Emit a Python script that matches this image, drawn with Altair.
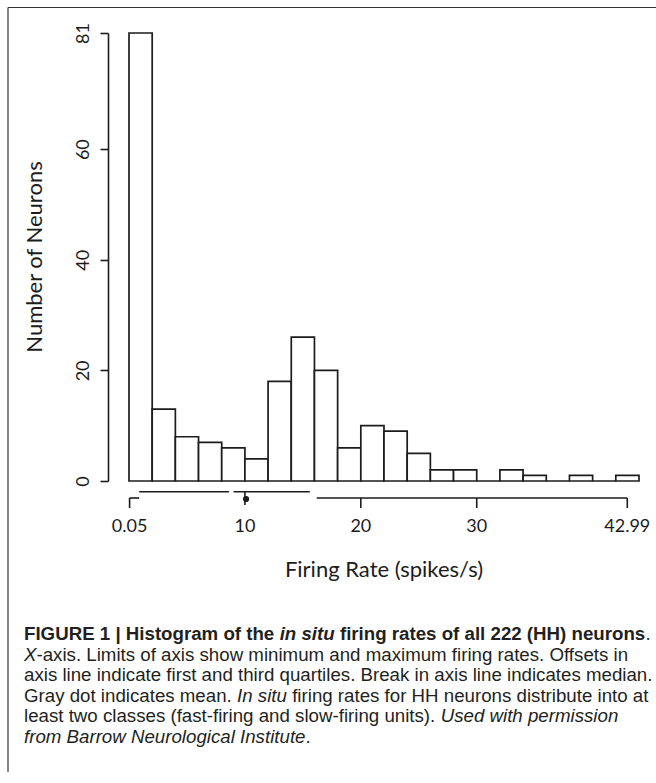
import altair as alt
import pandas as pd

# ---------------- data ----------------
bin_lo = [0, 2, 4, 6, 8, 10, 12, 14, 16, 18, 20, 22, 24, 26, 28, 30, 32, 34, 36, 38, 40, 42]
bin_hi = [2, 4, 6, 8, 10, 12, 14, 16, 18, 20, 22, 24, 26, 28, 30, 32, 34, 36, 38, 40, 42, 44]
counts = [81, 13, 8, 7, 6, 4, 18, 26, 20, 6, 10, 9, 5, 2, 2, 0, 2, 1, 0, 1, 0, 1]

y_ticks = [0, 20, 40, 60, 81]
x_tick_values = [0.05, 10, 20, 30, 42.99]
x_tick_labels = ["0.05", "10", "20", "30", "42.99"]

rate_min, rate_q1, rate_median, rate_mean, rate_q3, rate_max = 0.05, 0.88, 8.82, 10.1, 15.9, 42.99

x_title = "Firing Rate (spikes/s)"
y_title = "Number of Neurons"

caption_lines = [
    [("FIGURE 1 | Histogram of the ", "b"), ("in situ", "bi"),
     (" firing rates of all 222 (HH) neurons", "b"), (".", "r")],
    [("X", "i"), ("-axis. Limits of axis show minimum and maximum firing rates. Offsets in", "r")],
    [("axis line indicate first and third quartiles. Break in axis line indicates median.", "r")],
    [("Gray dot indicates mean. ", "r"), ("In situ", "i"),
     (" firing rates for HH neurons distribute into at", "r")],
    [("least two classes (fast-firing and slow-firing units). ", "r"), ("Used with permission", "i")],
    [("from Barrow Neurological Institute", "i"), (".", "r")],
]

# ---------------- layout ----------------
W, H = 510, 448
PAD_L, PAD_T = 129, 33
INK = "#1c1c1c"
AX_FONT = "Lato"
TICK_SIZE = 18
TITLE_SIZE = 22
CAP_FONT = "Liberation Sans"
CAP_SIZE = 18.7

hist = pd.DataFrame({"lo": bin_lo, "hi": bin_hi, "n": counts})
xs = alt.Scale(domain=[0, 44], nice=False, zero=False)
ys = alt.Scale(domain=[0, 81], nice=False)

bars = alt.Chart(hist).mark_rect(fill="white", stroke=INK, strokeWidth=1.7).encode(
    x=alt.X("lo:Q", scale=xs, axis=None),
    x2="hi:Q",
    y=alt.Y("n:Q", scale=ys, axis=alt.Axis(
        values=y_ticks, title=None, offset=21, tickSize=8, tickWidth=1.6, domainWidth=1.6,
        domainColor=INK, tickColor=INK, labelColor=INK, labelFont=AX_FONT, labelFontSize=TICK_SIZE,
        labelAngle=270, labelAlign="center", labelBaseline="bottom", labelPadding=8,
        labelFlush=False, labelOverlap=False, grid=False)),
    y2=alt.datum(0),
)

# custom quartile x axis (range frame)
base_y, off_y = 465, 458.7
mgap, qgap = 0.2, 0.3
seg_base = pd.DataFrame({"a": [rate_min, rate_q3 + qgap], "b": [rate_q1, rate_max]})
seg_off = pd.DataFrame({"a": [rate_q1, rate_median + mgap], "b": [rate_median - mgap, rate_q3 - qgap]})

line_base = alt.Chart(seg_base).mark_rule(color=INK, strokeWidth=1.6).encode(
    x=alt.X("a:Q", scale=xs), x2="b:Q", y=alt.value(base_y))
line_off = alt.Chart(seg_off).mark_rule(color=INK, strokeWidth=1.6).encode(
    x=alt.X("a:Q", scale=xs), x2="b:Q", y=alt.value(off_y))

ticks = pd.DataFrame({"v": x_tick_values, "lab": x_tick_labels})
tick_out = alt.Chart(ticks).transform_filter(
    f"datum.v < {rate_q1} || datum.v > {rate_q3}").mark_rule(color=INK, strokeWidth=1.6).encode(
    x=alt.X("v:Q", scale=xs), y=alt.value(base_y), y2=alt.value(base_y + 10))
tick_in = alt.Chart(ticks).transform_filter(
    f"datum.v >= {rate_q1} && datum.v <= {rate_q3}").mark_rule(color=INK, strokeWidth=1.6).encode(
    x=alt.X("v:Q", scale=xs), y=alt.value(off_y), y2=alt.value(base_y + 7))
tick_text = alt.Chart(ticks).mark_text(
    font=AX_FONT, fontSize=TICK_SIZE, color=INK, align="center", baseline="alphabetic").encode(
    x=alt.X("v:Q", scale=xs), y=alt.value(498.7), text="lab:N")

mean_dot = alt.Chart(pd.DataFrame({"m": [rate_mean]})).mark_point(
    filled=True, size=38, color=INK, opacity=1).encode(
    x=alt.X("m:Q", scale=xs), y=alt.value(base_y + 1))

xt = alt.Chart(pd.DataFrame({"t": [x_title]})).mark_text(
    font=AX_FONT, fontSize=TITLE_SIZE, color=INK, align="center", baseline="alphabetic").encode(
    x=alt.value(W / 2), y=alt.value(543.7), text="t:N")
yt = alt.Chart(pd.DataFrame({"t": [y_title]})).mark_text(
    font=AX_FONT, fontSize=TITLE_SIZE, color=INK, align="center", baseline="middle", angle=270).encode(
    x=alt.value(35 - PAD_L), y=alt.value(H / 2), text="t:N")

# frame (top and left edges)
frame_top = alt.Chart(pd.DataFrame({"k": [0]})).mark_rule(color="#333", strokeWidth=1.2).encode(
    x=alt.value(8 - PAD_L), x2=alt.value(656 - PAD_L), y=alt.value(7.5 - PAD_T))
frame_left = alt.Chart(pd.DataFrame({"k": [0]})).mark_rule(color="#333", strokeWidth=1.2).encode(
    x=alt.value(8 - PAD_L), y=alt.value(7.5 - PAD_T), y2=alt.value(772 - PAD_T))

# caption: Arial/Liberation advance widths (per 1000 em) to place mixed-style runs
REG = {' ': 278, '(': 333, ')': 333, '-': 333, '.': 278, '|': 260, ',': 278,
       'A': 667, 'B': 667, 'C': 722, 'D': 722, 'E': 667, 'F': 611, 'G': 778, 'H': 722, 'I': 278,
       'J': 500, 'K': 667, 'L': 556, 'M': 833, 'N': 722, 'O': 778, 'P': 667, 'Q': 778, 'R': 722,
       'S': 667, 'T': 611, 'U': 722, 'V': 667, 'W': 944, 'X': 667, 'Y': 667, 'Z': 611,
       'a': 556, 'b': 556, 'c': 500, 'd': 556, 'e': 556, 'f': 278, 'g': 556, 'h': 556, 'i': 222,
       'j': 222, 'k': 500, 'l': 222, 'm': 833, 'n': 556, 'o': 556, 'p': 556, 'q': 556, 'r': 333,
       's': 500, 't': 278, 'u': 556, 'v': 500, 'w': 722, 'x': 500, 'y': 500, 'z': 500}
BOLD = {' ': 278, '(': 333, ')': 333, '-': 333, '.': 278, '|': 280, ',': 278,
        'A': 722, 'B': 722, 'C': 722, 'D': 722, 'E': 667, 'F': 611, 'G': 778, 'H': 722, 'I': 278,
        'J': 556, 'K': 722, 'L': 611, 'M': 833, 'N': 722, 'O': 778, 'P': 667, 'Q': 778, 'R': 722,
        'S': 667, 'T': 611, 'U': 722, 'V': 667, 'W': 944, 'X': 667, 'Y': 667, 'Z': 611,
        'a': 556, 'b': 611, 'c': 556, 'd': 611, 'e': 556, 'f': 333, 'g': 611, 'h': 611, 'i': 278,
        'j': 278, 'k': 556, 'l': 278, 'm': 889, 'n': 611, 'o': 611, 'p': 611, 'q': 611, 'r': 389,
        's': 556, 't': 333, 'u': 611, 'v': 556, 'w': 778, 'x': 556, 'y': 556, 'z': 500}


def run_width(s, style):
    tab = BOLD if "b" in style else REG
    return sum(tab.get(c, 556) for c in s) * CAP_SIZE / 1000.0


cap_layers = []
cap_x0 = 24 - PAD_L
cap_y0 = 640 - PAD_T
cap_lead = 20.5
for li, line in enumerate(caption_lines):
    cur = cap_x0
    for seg, style in line:
        lead = len(seg) - len(seg.lstrip(" "))
        px = cur + run_width(" " * lead, style)
        cur += run_width(seg, style)
        cap_layers.append(
            alt.Chart(pd.DataFrame({"t": [seg.strip()]})).mark_text(
                font=CAP_FONT, fontSize=CAP_SIZE, color="#231f20", align="left", baseline="alphabetic",
                fontWeight="bold" if "b" in style else "normal",
                fontStyle="italic" if "i" in style else "normal").encode(
                x=alt.value(px), y=alt.value(cap_y0 + li * cap_lead), text="t:N"))

chart = alt.layer(
    bars, line_base, line_off, tick_out, tick_in, mean_dot, tick_text, xt, yt,
    frame_top, frame_left, *cap_layers
).properties(
    width=W, height=H,
    padding={"left": PAD_L, "top": PAD_T, "right": 656 - PAD_L - W, "bottom": 783 - PAD_T - H},
    autosize=alt.AutoSizeParams(type="none"),
    background="white",
).configure_view(stroke=None)

chart.save("out.html", embed_options={"renderer": "svg", "actions": False})
